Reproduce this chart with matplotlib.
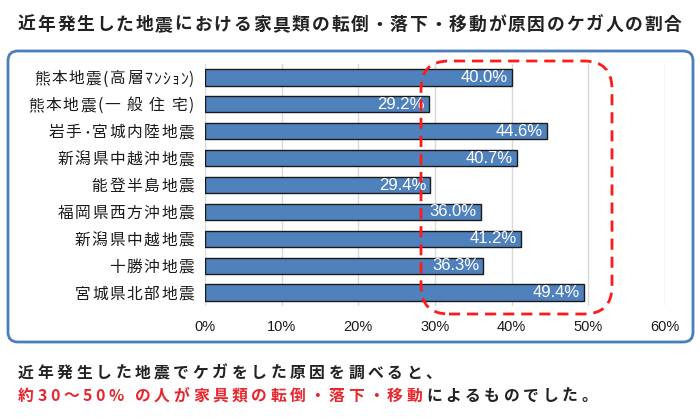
import matplotlib
matplotlib.use("Agg")
import matplotlib.pyplot as plt
from matplotlib.patches import FancyBboxPatch
from matplotlib.ticker import FuncFormatter
from matplotlib.font_manager import FontProperties, findfont, get_font

try:
    from matplotlib.ft2font import LoadFlags
    NOHINT = LoadFlags.NO_HINTING
except Exception:
    from matplotlib.ft2font import LOAD_NO_HINTING as NOHINT

plt.rcParams['font.family'] = ['Noto Sans CJK JP', 'DejaVu Sans']

categories = ["熊本地震(高層ﾏﾝｼｮﾝ)", "熊本地震(一 般 住 宅)", "岩手･宮城内陸地震",
              "新潟県中越沖地震", "能登半島地震", "福岡県西方沖地震",
              "新潟県中越地震", "十勝沖地震", "宮城県北部地震"]
values = [40.0, 29.2, 44.6, 40.7, 29.4, 36.0, 41.2, 36.3, 49.4]
xticks = [0, 10, 20, 30, 40, 50, 60]

title = "近年発生した地震における家具類の転倒・落下・移動が原因のケガ人の割合"
note1 = "近年発生した地震でケガをした原因を調べると、"
note2_red = "約30～50% の人が家具類の転倒・落下・移動"
note2_black = "によるものでした。"

W, H = 700, 420
DPI = 100
fig = plt.figure(figsize=(7, 4.2), dpi=DPI)
fig.patch.set_facecolor('white')


def fx(px):
    return px / W


def fy(py):
    return 1 - py / H


def advances(s, size, weight, tracking, half_tracking):
    fp = FontProperties(family='Noto Sans CJK JP', weight=weight)
    font = get_font(findfont(fp))
    font.set_size(size, DPI)
    out = []
    for ch in s:
        g = font.load_char(ord(ch), flags=NOHINT)
        adv = g.linearHoriAdvance / 65536
        if 0xFF61 <= ord(ch) <= 0xFF9F:
            out.append(adv + half_tracking)
        else:
            out.append(adv + tracking)
    return out


def spaced_text(x, yc, s, size, weight='normal', color='#222222',
                tracking=0.0, ha='left', half_tracking=0.0):
    """Draw string s with letter spacing; x, yc in top-left pixel coords,
    yc is the vertical centre of the glyphs. Returns right end x."""
    adv = advances(s, size, weight, tracking, half_tracking)
    total = sum(adv) - tracking
    if ha == 'right':
        x = x - total
    em = size * DPI / 72
    base = yc + 0.38 * em
    pen = x
    for ch, a in zip(s, adv):
        if ch != ' ':
            fig.text(fx(pen), fy(base), ch, fontsize=size, fontweight=weight,
                     color=color, ha='left', va='baseline',
                     family=['Noto Sans CJK JP', 'DejaVu Sans'])
        pen += a
    return pen


# outer blue rounded frame
frame = FancyBboxPatch((fx(8), fy(342)), fx(685), (342 - 51) / H,
                       boxstyle="round,pad=0,rounding_size=0.014",
                       transform=fig.transFigure, fill=False,
                       edgecolor='#4A7EBB', linewidth=2, mutation_aspect=W / H)
fig.patches.append(frame)

ax = fig.add_axes([fx(205), fy(306), fx(665) - fx(205), (306 - 64) / H])
ypos = list(range(len(categories)))
ax.barh(ypos, values, height=0.6, color='#4F81BD', edgecolor='#1a1a1a',
        linewidth=1.0, zorder=3)
ax.set_ylim(len(categories) - 0.5, -0.5)
ax.set_xlim(0, 60)
ax.set_xticks(xticks)
ax.xaxis.set_major_formatter(FuncFormatter(lambda v, p: f"{v:.0f}%"))
ax.set_yticks(ypos)
ax.set_yticklabels([])
ax.tick_params(axis='both', length=0)
ax.tick_params(axis='x', pad=10, labelsize=10.5, labelcolor='#1a1a1a')
for lbl in ax.get_xticklabels():
    lbl.set_fontfamily(['Liberation Sans', 'DejaVu Sans'])
ax.grid(axis='x', color='#D9D9D9', linewidth=1, zorder=0)
for s in ax.spines.values():
    s.set_visible(False)

for y, v in zip(ypos, values):
    ax.annotate(f"{v:.1f}%", (v, y), xytext=(-3, 0), textcoords='offset points',
                ha='right', va='center', color='white', fontsize=12,
                family=['Liberation Sans', 'DejaVu Sans'], zorder=4)

# category labels, letter-spaced, right aligned next to the axis
for y, cat in zip(ypos, categories):
    _, ydisp = ax.transData.transform((0, y))
    spaced_text(194, H - ydisp, cat, 11.3, 'normal', '#1a1a1a',
                tracking=1.6, ha='right', half_tracking=1.0)

# red dashed rounded highlight
hl = FancyBboxPatch((fx(421), fy(314)), fx(612) - fx(421), (314 - 61) / H,
                    boxstyle="round,pad=0,rounding_size=0.04",
                    transform=fig.transFigure, fill=False,
                    edgecolor='#FF1A1A', linewidth=2, linestyle=(0, (4, 2.5)),
                    mutation_aspect=W / H, zorder=10)
fig.patches.append(hl)

spaced_text(18, 23, title, 12.8, 'bold', '#222222', tracking=1.8)
spaced_text(18, 372, note1, 11.4, 'bold', '#222222', tracking=3.6)
xe = spaced_text(18, 395, note2_red, 11.4, 'bold', '#E8262B', tracking=3.6)
spaced_text(xe, 395, note2_black, 11.4, 'bold', '#222222', tracking=3.6)

fig.savefig("out.png", dpi=DPI)
